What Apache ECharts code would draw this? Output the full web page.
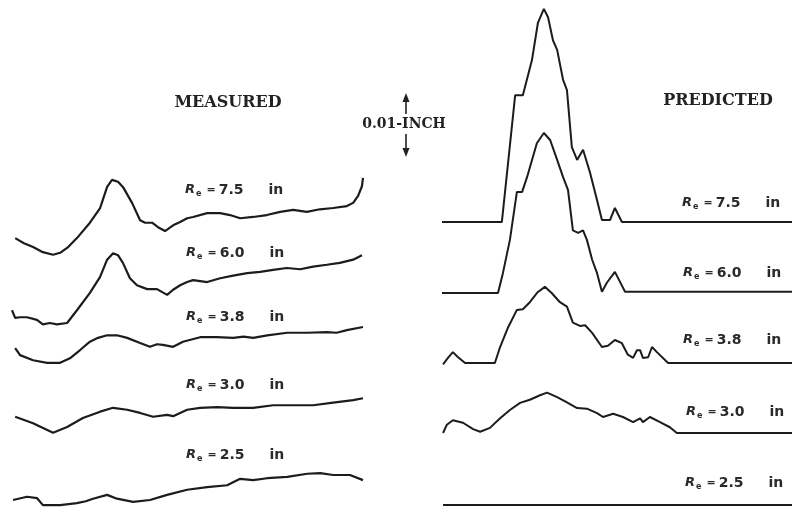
<!DOCTYPE html>
<html>
<head>
<meta charset="utf-8">
<script src="https://cdn.jsdelivr.net/npm/echarts@6/dist/echarts.min.js"></script>
<style>html,body{margin:0;padding:0;background:#fff}#c{width:792px;height:509px}</style>
</head>
<body>
<div id="c"></div>
<script>
// x: position across the panel (0-100), y: deflection in mils (0.001 in)
const measured75 = [[0.9,0.3],[3.4,-0.5],[6,-1.1],[8.8,-1.9],[11.7,-2.3],[13.7,-2.0],[16,-1.1],[18.5,0.3],[22.2,2.7],[25.1,5.0],[25.9,6.3],[27.1,8.3],[28.5,9.4],[30.2,9.1],[31.6,8.3],[34.2,5.8],[36.5,3.1],[37.9,2.7],[39.9,2.7],[41.6,2.0],[43.6,1.4],[45.9,2.3],[47.9,2.8],[49.9,3.4],[51.6,3.6],[55.6,4.2],[59.3,4.2],[62.1,3.9],[65,3.4],[68.7,3.6],[72.6,3.9],[76.4,4.4],[80.1,4.7],[84,4.4],[87.7,4.8],[91.5,5.0],[95.4,5.3],[97.2,5.8],[98.6,6.9],[99.7,8.4],[100,9.7]];
const measured60 = [[0,-1.6],[0.9,-2.8],[2.3,-2.7],[4.3,-2.7],[7.1,-3.1],[8.8,-3.8],[10.8,-3.6],[12.8,-3.8],[15.7,-3.6],[18.5,-1.6],[22.2,1.1],[25.1,3.6],[27.1,6.3],[28.8,7.3],[30.2,7.0],[31.6,5.8],[33.6,3.4],[35.6,2.3],[38.5,1.7],[41.3,1.7],[44.2,0.8],[45.9,1.6],[47.9,2.3],[49.9,2.8],[51.6,3.1],[55.6,2.8],[59.3,3.4],[63,3.8],[67,4.2],[70.7,4.4],[74.4,4.7],[78.3,5.0],[82.1,4.8],[85.8,5.2],[89.7,5.5],[93.4,5.8],[97.2,6.3],[99.7,7.0]];
const measured38 = [[0.9,0.3],[2.3,-0.8],[6,-1.6],[10,-2.0],[13.7,-2.0],[16.5,-1.3],[19.4,0],[22.2,1.3],[24.5,1.9],[27.1,2.3],[29.9,2.3],[32.8,1.9],[36.5,1.1],[39.3,0.5],[41.3,0.9],[43,0.8],[45.9,0.5],[48.7,1.3],[53.6,2.0],[58.4,2.0],[63,1.9],[66,2.1],[68.7,1.9],[72.7,2.3],[78.4,2.7],[84.1,2.7],[89.7,2.8],[92.5,2.7],[95.4,3.1],[100,3.6]];
const measured30 = [[0.9,0.5],[6,-0.5],[11.7,-2.0],[15.7,-1.1],[20.2,0.3],[25.1,1.3],[28.8,1.9],[32.8,1.6],[36.5,1.1],[40.2,0.5],[44.2,0.8],[45.9,0.6],[49.9,1.6],[53.6,1.9],[58.4,2.0],[63,1.9],[68.7,1.9],[74.4,2.3],[80.1,2.3],[85.8,2.3],[91.5,2.7],[97.2,3.1],[100,3.4]];
const measured25 = [[0.3,0],[4.3,0.5],[7.1,0.3],[8.8,-0.8],[13.7,-0.8],[18.5,-0.5],[21,-0.2],[23.1,0.2],[27.1,0.8],[29.9,0.2],[34.5,-0.3],[39.3,0],[44.2,0.8],[49.9,1.6],[55.6,2.0],[61.3,2.3],[65,3.3],[68.7,3.1],[72.7,3.4],[78.4,3.6],[84.1,4.1],[87.8,4.2],[91.5,3.9],[96.3,3.9],[100,3.1]];

const predicted75 = [[0,0],[17.1,0],[20.9,19.8],[23.1,19.8],[25.7,25.3],[27.4,31.1],[29.1,33.3],[30.3,32.0],[31.7,28.4],[32.9,26.9],[34.6,22.2],[35.7,20.6],[37.1,11.7],[38.6,9.7],[40.3,11.3],[42.3,7.7],[44.3,3.4],[45.7,0.3],[48,0.3],[49.4,2.2],[51.4,0],[100,0]];
const predicted60 = [[0,0],[16,0],[17.4,3.1],[19.4,8.3],[21.4,15.8],[22.9,15.8],[24.3,18.1],[27.1,23.4],[29.1,25.0],[30.9,23.9],[32.9,20.8],[34.6,18.1],[36,16.1],[37.4,9.8],[38.9,9.4],[40.3,9.8],[41.4,8.3],[42.9,5.2],[44.3,3.1],[45.7,0.2],[47.1,1.6],[49.4,3.3],[50.9,1.7],[52.3,0.2],[100,0.2]];
const predicted38 = [[0.3,-0.2],[1.7,0.8],[3.1,1.7],[4.6,0.9],[6.6,0],[15.1,0],[16.6,2.5],[18.9,5.6],[21.4,8.3],[23.1,8.4],[25.1,9.5],[27.4,11.1],[29.4,11.9],[31.4,10.9],[33.7,9.5],[35.7,8.8],[37.4,6.3],[39.4,5.8],[40.9,5.9],[42.9,4.7],[45.7,2.5],[47.4,2.7],[49.4,3.6],[51.4,3.1],[53.1,1.3],[54.6,0.8],[55.7,2.0],[56.6,2.0],[57.4,0.8],[58.9,0.9],[60,2.5],[61.4,1.7],[64.6,0],[100,0]];
const predicted30 = [[0.3,0],[1.4,1.3],[3.1,2.0],[6,1.6],[8.9,0.6],[10.9,0.2],[13.7,0.8],[16.6,2.3],[19.4,3.6],[22.3,4.7],[25.1,5.2],[28,5.9],[30,6.3],[32.9,5.6],[35.7,4.8],[38.6,3.9],[41.4,3.8],[44.3,3.1],[46,2.5],[48.9,3.0],[51.7,2.5],[54.6,1.7],[56.6,2.3],[57.4,1.7],[59.4,2.5],[62.3,1.7],[65.1,0.9],[67.1,0],[100,0]];
const predicted25 = [[0.3,0],[30,0],[60,0],[100,0]];

const radii = ['7.5','6.0','3.8','3.0','2.5'];
const titles = ['MEASURED', 'PREDICTED'];
const scaleLabel = '0.01-INCH';

// layout (baseline of each trace, mils above chart bottom)
const measuredSets = [measured75, measured60, measured38, measured30, measured25];
const predictedSets = [predicted75, predicted60, predicted38, predicted30, predicted25];
const measuredOffsets = [42.03, 32.66, 24.84, 13.91, 1.41];
const predictedOffsets = [44.84, 33.75, 22.81, 11.875, 0.625];

const Y_MAX = 509 / 6.4;
const chart = echarts.init(document.getElementById('c'), null, {renderer: 'canvas'});

const series = [];
measuredSets.forEach((d, i) => {
  series.push({
    type: 'line', xAxisIndex: 0, yAxisIndex: 0, showSymbol: false, silent: true,
    lineStyle: {color: '#1c1c1c', width: 2.2}, clip: false,
    data: d.map(p => [p[0], p[1] + measuredOffsets[i]])
  });
});
predictedSets.forEach((d, i) => {
  series.push({
    type: 'line', xAxisIndex: 1, yAxisIndex: 1, showSymbol: false, silent: true,
    lineStyle: {color: '#1c1c1c', width: 2}, clip: false,
    data: d.map(p => [p[0], p[1] + predictedOffsets[i]])
  });
});

const txt = '#2a2a2a';
const rich = {
  r: {fontFamily: 'DejaVu Sans', fontStyle: 'italic', fontWeight: 'bold', fontSize: 13, fill: txt},
  s: {fontFamily: 'DejaVu Sans', fontSize: 8, fontWeight: 'bold', fill: txt, padding: [7, 0, 0, 1]},
  e: {fontFamily: 'DejaVu Sans', fontSize: 11, fontWeight: 'bold', fill: txt, padding: [0, 0, 0, 5]},
  n: {fontFamily: 'DejaVu Sans', fontSize: 14, fontWeight: 'bold', fill: txt, padding: [0, 0, 0, 3]},
  u: {fontFamily: 'DejaVu Sans', fontSize: 14, fontWeight: 'bold', fill: txt, padding: [0, 0, 0, 25]}
};
function rLabel(x, y, r) {
  return {type: 'text', x: x, y: y, silent: true,
    style: {text: '{r|R}{s|e}{e|=}{n|' + r + '}{u|in}', rich: rich, verticalAlign: 'middle', align: 'left'}};
}
const leftLabelPos = [[185,190],[186,253],[186,317],[186,385],[186,455]];
const rightLabelPos = [[682,203],[683,273],[683,340],[686,412],[685,483]];

const graphics = [];
radii.forEach((r, i) => {
  graphics.push(rLabel(leftLabelPos[i][0], leftLabelPos[i][1], r));
  graphics.push(rLabel(rightLabelPos[i][0], rightLabelPos[i][1], r));
});
const titleFont = 'bold 16px "DejaVu Serif"';
graphics.push({type: 'text', x: 228, y: 103, silent: true, style: {text: titles[0], font: titleFont, fill: '#222', align: 'center', verticalAlign: 'middle'}});
graphics.push({type: 'text', x: 718, y: 101, silent: true, style: {text: titles[1], font: titleFont, fill: '#222', align: 'center', verticalAlign: 'middle'}});
graphics.push({type: 'text', x: 404, y: 124, silent: true, style: {text: scaleLabel, font: 'bold 14px "DejaVu Serif"', fill: '#222', align: 'center', verticalAlign: 'middle'}});
// scale arrows
graphics.push({type: 'line', silent: true, shape: {x1: 406, y1: 99, x2: 406, y2: 114}, style: {stroke: '#222', lineWidth: 1.6}});
graphics.push({type: 'polygon', silent: true, shape: {points: [[402.5,102],[409.5,102],[406,93]]}, style: {fill: '#222'}});
graphics.push({type: 'line', silent: true, shape: {x1: 406, y1: 134, x2: 406, y2: 151}, style: {stroke: '#222', lineWidth: 1.6}});
graphics.push({type: 'polygon', silent: true, shape: {points: [[402.5,148],[409.5,148],[406,157]]}, style: {fill: '#222'}});

chart.setOption({
  animation: false,
  backgroundColor: '#ffffff',
  grid: [
    {left: 12, right: 429, top: 0, bottom: 0},
    {left: 442, right: 0, top: 0, bottom: 0}
  ],
  xAxis: [
    {type: 'value', gridIndex: 0, min: 0, max: 100, show: false},
    {type: 'value', gridIndex: 1, min: 0, max: 100, show: false}
  ],
  yAxis: [
    {type: 'value', gridIndex: 0, min: 0, max: Y_MAX, show: false},
    {type: 'value', gridIndex: 1, min: 0, max: Y_MAX, show: false}
  ],
  series: series,
  graphic: graphics
});
</script>
</body>
</html>
